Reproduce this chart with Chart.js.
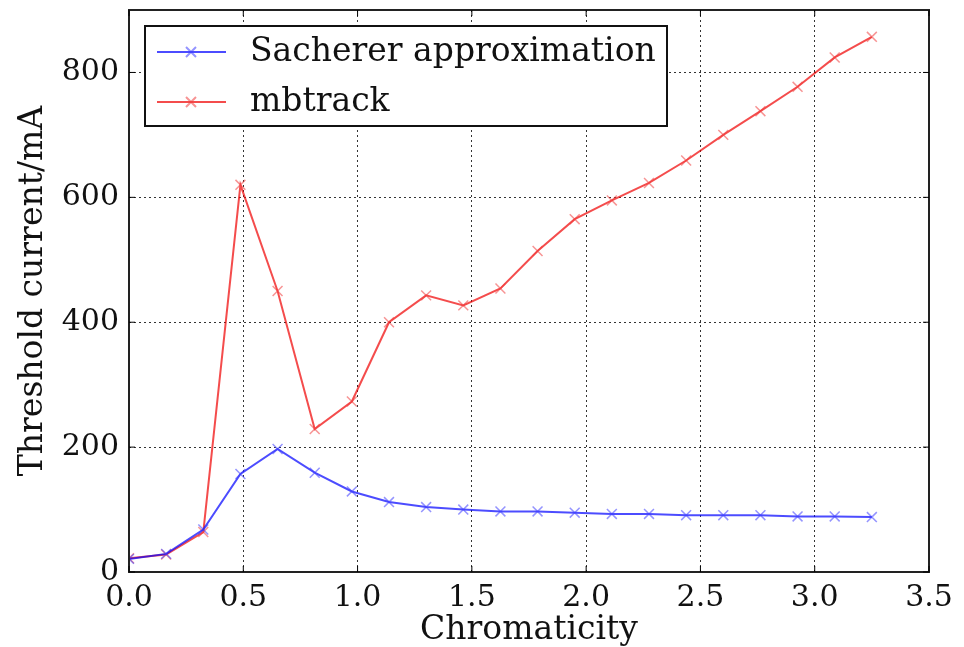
<!DOCTYPE html>
<html>
<head>
<meta charset="utf-8">
<script src="https://cdn.jsdelivr.net/npm/chart.js@4/dist/chart.umd.min.js"></script>
<style>
    body { margin: 0; background: #fff; }
    #wrap { width: 964px; height: 647px; }
</style>
</head>
<body>
<div id="wrap"><canvas id="myChart" width="964" height="647"></canvas></div>
<script>
let chromaticity = [0, 0.1625, 0.325, 0.4875, 0.65, 0.8125, 0.975, 1.1375, 1.3, 1.4625, 1.625,
    1.7875, 1.95, 2.1125, 2.275, 2.4375, 2.6, 2.7625, 2.925, 3.0875, 3.25];
let sacherer = [21, 29, 68, 157, 197, 159, 129, 112, 104, 100, 97, 97, 95, 93, 93, 91, 91, 91, 89, 89, 88];
let mbtrack = [22, 28, 64, 620, 450, 229, 273, 400, 443, 427, 454, 514, 565, 595, 623, 659, 700, 738, 777, 824, 857];
let xTicks = [0, 0.5, 1, 1.5, 2, 2.5, 3, 3.5];
let yTicks = [0, 200, 400, 600, 800];

const serif = "'DejaVu Serif', serif";

function toPoints(values) {
    return values.map((v, i) => ({ x: chromaticity[i], y: v }));
}

// ================================================================== frame + legend box inside the plot
const framePlugin = {
    id: 'frame',
    afterDraw(chart) {
        let ctx = chart.ctx;
        let a = chart.chartArea;
        ctx.save();
        ctx.strokeStyle = '#222';
        ctx.lineWidth = 2;
        ctx.strokeRect(a.left, a.top, a.right - a.left, a.bottom - a.top);

        // inward tick marks
        ctx.lineWidth = 1;
        ctx.strokeStyle = '#000';
        let xs = chart.scales.x, ys = chart.scales.y;
        ctx.beginPath();
        xTicks.forEach(t => {
            let px = xs.getPixelForValue(t);
            ctx.moveTo(px, a.bottom); ctx.lineTo(px, a.bottom - 6);
            ctx.moveTo(px, a.top); ctx.lineTo(px, a.top + 6);
        });
        yTicks.forEach(t => {
            let py = ys.getPixelForValue(t);
            ctx.moveTo(a.left, py); ctx.lineTo(a.left + 6, py);
            ctx.moveTo(a.right, py); ctx.lineTo(a.right - 6, py);
        });
        ctx.stroke();

        // legend
        let bx = 145, by = 26, bw = 522, bh = 100;
        ctx.fillStyle = '#fff';
        ctx.fillRect(bx, by, bw, bh);
        ctx.strokeStyle = '#111';
        ctx.lineWidth = 2;
        ctx.strokeRect(bx, by, bw, bh);
        chart.data.datasets.forEach((ds, i) => {
            let y = 52 + i * 50;
            ctx.strokeStyle = ds.borderColor;
            ctx.lineWidth = 2;
            ctx.beginPath();
            ctx.moveTo(157, y); ctx.lineTo(226, y);
            ctx.stroke();
            ctx.strokeStyle = ds.pointBorderColor;
            ctx.beginPath();
            ctx.moveTo(186, y - 5); ctx.lineTo(196, y + 5);
            ctx.moveTo(186, y + 5); ctx.lineTo(196, y - 5);
            ctx.stroke();
            ctx.fillStyle = '#111';
            ctx.font = '33px ' + serif;
            ctx.textBaseline = 'middle';
            ctx.fillText(ds.label, 250, y);
        });
        ctx.restore();
    }
};

let ctx = document.getElementById('myChart');

new Chart(ctx, {
    type: 'line',
    data: {
        datasets: [{
            label: 'Sacherer approximation',
            data: toPoints(sacherer),
            borderColor: 'rgba(0, 0, 255, 0.7)',
            borderWidth: 2,
            pointStyle: 'crossRot',
            pointRadius: 7,
            pointBorderWidth: 1.5,
            pointBorderColor: 'rgba(60, 60, 255, 0.55)',
            fill: false,
            tension: 0
        }, {
            label: 'mbtrack',
            data: toPoints(mbtrack),
            borderColor: 'rgba(240, 0, 0, 0.7)',
            borderWidth: 2,
            pointStyle: 'crossRot',
            pointRadius: 7,
            pointBorderWidth: 1.5,
            pointBorderColor: 'rgba(240, 60, 60, 0.55)',
            fill: false,
            tension: 0
        }]
    },
    options: {
        responsive: false,
        animation: false,
        layout: { padding: { top: 10, right: 35, left: 0, bottom: 0 } },
        plugins: {
            legend: { display: false },
            tooltip: { enabled: false }
        },
        scales: {
            x: {
                type: 'linear',
                min: 0,
                max: 3.5,
                afterFit(scale) { scale.height = 75; },
                afterBuildTicks(scale) { scale.ticks = xTicks.map(v => ({ value: v })); },
                ticks: {
                    padding: 8,
                    color: '#111',
                    font: { family: serif, size: 30 },
                    callback: v => v.toFixed(1)
                },
                grid: {
                    color: '#333',
                    lineWidth: 1,
                    drawTicks: false
                },
                border: { display: false, dash: [2, 3] },
                title: {
                    display: true,
                    text: 'Chromaticity',
                    color: '#111',
                    font: { family: serif, size: 33 },
                    padding: { top: 0, bottom: -3 }
                }
            },
            y: {
                min: 0,
                max: 900,
                afterFit(scale) {
                    scale.width = 129;
                    scale.paddingTop = 0;
                    scale.paddingBottom = 0;
                },
                afterBuildTicks(scale) { scale.ticks = yTicks.map(v => ({ value: v })); },
                ticks: {
                    padding: 10,
                    color: '#111',
                    font: { family: serif, size: 30 }
                },
                grid: {
                    color: '#333',
                    lineWidth: 1,
                    drawTicks: false
                },
                border: { display: false, dash: [2, 3] },
                title: {
                    display: true,
                    text: 'Threshold current/mA',
                    color: '#111',
                    font: { family: serif, size: 33 },
                    padding: { top: 14, bottom: 0 }
                }
            }
        }
    },
    plugins: [framePlugin]
});
</script>
</body>
</html>
